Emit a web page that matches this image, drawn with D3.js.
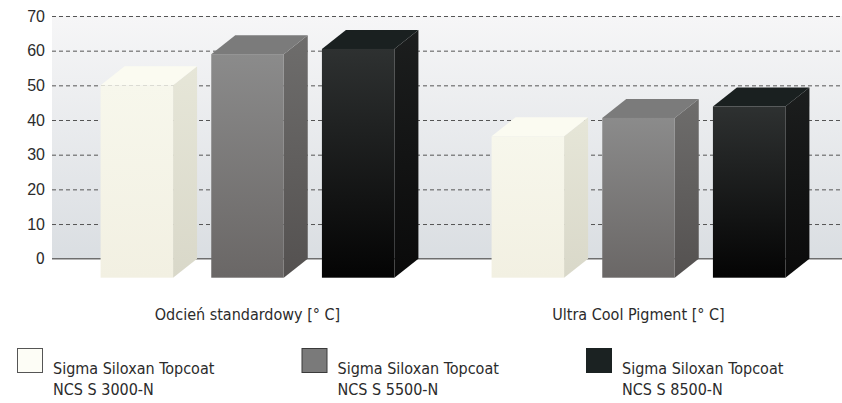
<!DOCTYPE html>
<html>

<head>
    <meta charset="utf-8">
    <style>
        body {
            margin: 0;
            background: #fff;
        }

        svg {
            display: block;
            font-family: 'Liberation Sans Narrow', 'DejaVu Sans Condensed', 'Arial Narrow', sans-serif;
        }

        .y .tick text {
            font-size: 16px;
            fill: #2b2b2b;
        }

        .y .tick line {
            stroke: #555;
            stroke-dasharray: 4 3;
        }

        .y .domain {
            display: none;
        }

        .cat-label,
        .legend text {
            font-size: 16px;
            fill: #2b2b2b;
        }
    </style>
</head>

<body>
    <svg width="842" height="403"></svg>
</body>

<script src="https://d3js.org/d3.v7.min.js"></script>

<script>
    // data
    let categories = ["Odcień standardowy [° C]", "Ultra Cool Pigment [° C]"]
    let series = ["NCS S 3000-N", "NCS S 5500-N", "NCS S 8500-N"]
    let seriesName = "Sigma Siloxan Topcoat"
    let values3000 = [50, 35.3]
    let values5500 = [59, 40.6]
    let values8500 = [60.5, 43.9]
    let yTicks = [0, 10, 20, 30, 40, 50, 60, 70]

    let width = 842
    let height = 403
    let margin = { top: 16, right: 0, bottom: 144, left: 52 }
    let depth = { dx: 24, dy: 19 }

    let svg = d3.select("svg")

    let rows = []
    categories.forEach(function (c, i) {
        rows.push({ cat: c, s: series[0], v: values3000[i] })
        rows.push({ cat: c, s: series[1], v: values5500[i] })
        rows.push({ cat: c, s: series[2], v: values8500[i] })
    })

    let x0 = d3.scaleBand()
        .domain(categories)
        .range([margin.left, 834])

    let x1 = d3.scaleBand()
        .domain(series)
        .range([-166, 166])
        .paddingInner(0.345)
        .paddingOuter(0.1725)

    let y = d3.scaleLinear()
        .domain([0, 70])
        .range([height - margin.bottom - 0.3, margin.top])

    // colours for front, side, top of each series
    let palette = {
        "NCS S 3000-N": { top: "#fbfbf1", frontA: "#f7f7ec", frontB: "#f2f0e2", sideA: "#e6e6d8", sideB: "#d9d8c9", legend: "#fdfdf6", border: "#555" },
        "NCS S 5500-N": { top: "#7b7b7b", frontA: "#8b8b8b", frontB: "#6a6766", sideA: "#6e6d6c", sideB: "#545150", legend: "#7a7a7a", border: "#3a3a3a" },
        "NCS S 8500-N": { top: "#1a2020", frontA: "#2e3131", frontB: "#040404", sideA: "#1c1e1e", sideB: "#0a0a0a", legend: "#1b2222", border: "#1b2222" }
    }

    let defs = svg.append("defs")

    let bgGrad = defs.append("linearGradient")
        .attr("id", "bg")
        .attr("x1", 0).attr("y1", 0).attr("x2", 0).attr("y2", 1)
    bgGrad.append("stop").attr("offset", "0%").attr("stop-color", "#f6f6f7")
    bgGrad.append("stop").attr("offset", "100%").attr("stop-color", "#dadee2")

    series.forEach(function (s, i) {
        let p = palette[s]
        let g1 = defs.append("linearGradient").attr("id", "front" + i)
            .attr("x1", 0).attr("y1", 0).attr("x2", 0).attr("y2", 1)
        g1.append("stop").attr("offset", "0%").attr("stop-color", p.frontA)
        g1.append("stop").attr("offset", "100%").attr("stop-color", p.frontB)
        let g2 = defs.append("linearGradient").attr("id", "side" + i)
            .attr("x1", 0).attr("y1", 0).attr("x2", 0).attr("y2", 1)
        g2.append("stop").attr("offset", "0%").attr("stop-color", p.sideA)
        g2.append("stop").attr("offset", "100%").attr("stop-color", p.sideB)
    })

    // back wall
    svg.append("rect")
        .attr("x", margin.left)
        .attr("y", y(70))
        .attr("width", width - margin.left)
        .attr("height", y(0) - y(70))
        .style("fill", "url(#bg)")

    let yAxis = d3.axisLeft(y)
        .tickValues(yTicks.filter(d => d > 0))
        .tickSize(-(width - margin.left))
        .tickPadding(7)

    svg.append("g")
        .attr("class", "y axis")
        .attr("transform", `translate(${margin.left},0)`)
        .call(yAxis)

    svg.append("text")
        .attr("x", margin.left - 7)
        .attr("y", y(0))
        .attr("dy", "0.32em")
        .attr("text-anchor", "end")
        .style("font-size", "16px")
        .style("fill", "#2b2b2b")
        .text(yTicks[0])

    svg.append("line")
        .attr("x1", margin.left)
        .attr("x2", width)
        .attr("y1", y(0))
        .attr("y2", y(0))
        .style("stroke", "#6e6e6e")
        .style("stroke-width", "1.5px")

    let bars = svg.append("g")
        .selectAll("g")
        .data(rows)
        .join("g")

    let base = y(0) + depth.dy

    bars.each(function (d) {
        let g = d3.select(this)
        let i = series.indexOf(d.s)
        let xa = x0(d.cat) + x0.bandwidth() / 2 + x1(d.s)
        let xb = xa + x1.bandwidth()
        let yt = y(d.v)

        // side
        g.append("path")
            .attr("d", `M${xb},${yt} L${xb + depth.dx},${yt - depth.dy} L${xb + depth.dx},${base - depth.dy} L${xb},${base} Z`)
            .style("fill", `url(#side${i})`)

        // top
        g.append("path")
            .attr("d", `M${xa},${yt} L${xa + depth.dx},${yt - depth.dy} L${xb + depth.dx},${yt - depth.dy} L${xb},${yt} Z`)
            .style("fill", palette[d.s].top)

        // front
        g.append("rect")
            .attr("x", xa)
            .attr("y", yt)
            .attr("width", x1.bandwidth())
            .attr("height", base - yt)
            .style("fill", `url(#front${i})`)
    })

    svg.selectAll(".cat-label")
        .data(categories)
        .join("text")
        .attr("class", "cat-label")
        .attr("x", d => x0(d) + x0.bandwidth() / 2)
        .attr("y", 320)
        .attr("text-anchor", "middle")
        .text(d => d)

    let legendX = d3.scalePoint()
        .domain(series)
        .range([17, 586])

    let legend = svg.append("g")
        .attr("class", "legend")
        .selectAll("g")
        .data(series)
        .join("g")
        .attr("transform", d => `translate(${legendX(d)},348)`)

    legend.append("rect")
        .attr("x", 0.5)
        .attr("y", 0.5)
        .attr("width", 25)
        .attr("height", 24)
        .style("fill", d => palette[d].legend)
        .style("stroke", d => palette[d].border)

    legend.append("text")
        .attr("x", 36)
        .attr("y", 26)
        .text(seriesName)

    legend.append("text")
        .attr("x", 36)
        .attr("y", 47)
        .text(d => d)
</script>

</html>
